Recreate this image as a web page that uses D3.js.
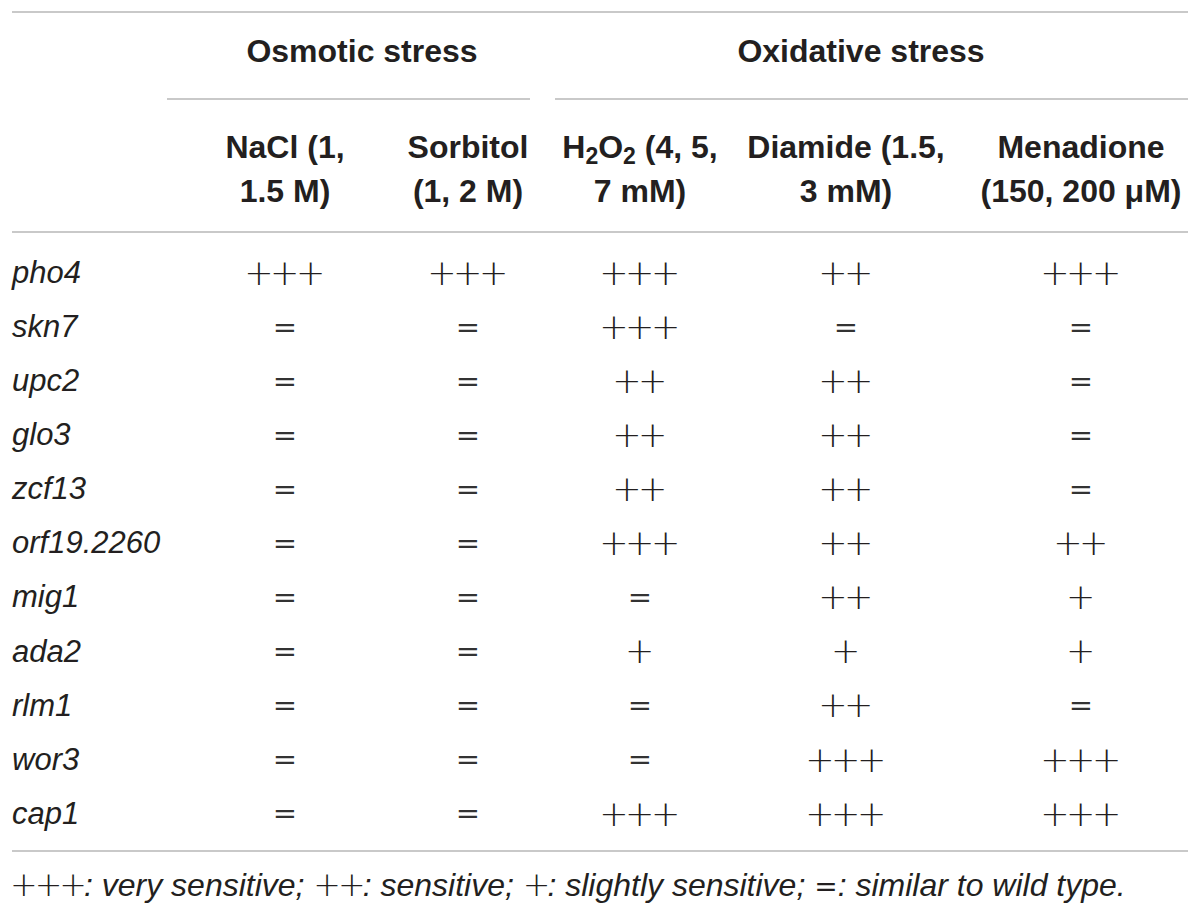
<!DOCTYPE html>
<html>
<head>
<meta charset="utf-8">
<style>
  body { margin: 0; background: #fff; }
  .rule { stroke: #c9c9c9; stroke-width: 2px; }
  .head { font-family: "Liberation Sans", Arial, sans-serif; font-weight: bold; font-size: 32px; fill: #231f20; }
  .gene { font-family: "Liberation Sans", Arial, sans-serif; font-style: italic; font-size: 31px; fill: #231f20; }
  .sym  { font-family: "DejaVu Sans", sans-serif; font-weight: 200; font-size: 35px; letter-spacing: -3.5px; fill: #231f20; }
  .sym.eq { font-weight: normal; font-size: 29px; letter-spacing: 0; fill: #333; }
  .note { font-family: "Liberation Sans", Arial, sans-serif; font-style: italic; font-size: 32px; fill: #231f20; }
</style>
<script src="https://d3js.org/d3.v7.min.js"></script>
</head>
<body>
<script>

    var width = 1200, height = 913;

    // table contents
    var genes = ["pho4", "skn7", "upc2", "glo3", "zcf13", "orf19.2260", "mig1", "ada2", "rlm1", "wor3", "cap1"];
    var nacl      = ["+++", "=", "=", "=", "=", "=", "=", "=", "=", "=", "="];
    var sorbitol  = ["+++", "=", "=", "=", "=", "=", "=", "=", "=", "=", "="];
    var h2o2      = ["+++", "+++", "++", "++", "++", "+++", "=", "+", "=", "=", "+++"];
    var diamide   = ["++", "=", "++", "++", "++", "++", "++", "+", "++", "+++", "+++"];
    var menadione = ["+++", "=", "=", "=", "=", "++", "+", "+", "=", "+++", "+++"];
    var columns = ["NaCl", "Sorbitol", "H2O2", "Diamide", "Menadione"];
    var groups = ["Osmotic stress", "Oxidative stress"];
    var footnote = "+++: very sensitive; ++: sensitive; +: slightly sensitive; =: similar to wild type.";

    var values = [nacl, sorbitol, h2o2, diamide, menadione];

    // layout
    var y = d3.scalePoint().domain(genes).range([272, 813]);
    var x = d3.scaleOrdinal().domain(columns).range([285, 468, 640, 846, 1081]);

    var svg = d3.select("body").append("svg")
        .attr("width", width)
        .attr("height", height);

    // horizontal rules
    var rules = [[12, 1188, 12], [167, 530, 99], [555, 1188, 99], [12, 1188, 232], [12, 1188, 851]];
    svg.selectAll("line.rule")
      .data(rules)
      .enter().append("line")
      .attr("class", "rule")
      .attr("x1", d => d[0]).attr("x2", d => d[1])
      .attr("y1", d => d[2]).attr("y2", d => d[2]);

    // group headers
    svg.selectAll("text.grp")
      .data(groups)
      .enter().append("text")
      .attr("class", "head grp")
      .attr("text-anchor", "middle")
      .attr("x", (d, i) => [362, 861][i])
      .attr("y", 62)
      .text(d => d);

    // column headers (two lines each)
    var hdr = svg.append("g");
    function headText(col, yy) {
      return hdr.append("text").attr("class", "head").attr("text-anchor", "middle")
        .attr("x", x(col)).attr("y", yy);
    }
    headText("NaCl", 158).text("NaCl (1,");
    headText("NaCl", 202).text("1.5 M)");
    headText("Sorbitol", 158).text("Sorbitol");
    headText("Sorbitol", 202).text("(1, 2 M)");
    var h = headText("H2O2", 158);
    h.append("tspan").text("H");
    h.append("tspan").attr("dy", 6).attr("font-size", 23).text("2");
    h.append("tspan").attr("dy", -6).text("O");
    h.append("tspan").attr("dy", 6).attr("font-size", 23).text("2");
    h.append("tspan").attr("dy", -6).text(" (4, 5,");
    headText("H2O2", 202).text("7 mM)");
    headText("Diamide", 158).text("Diamide (1.5,");
    headText("Diamide", 202).text("3 mM)");
    headText("Menadione", 158).text("Menadione");
    headText("Menadione", 202).text("(150, 200 \u03bcM)");

    // gene names
    svg.selectAll("text.gene")
      .data(genes)
      .enter().append("text")
      .attr("class", "gene")
      .attr("x", 12)
      .attr("y", d => y(d))
      .attr("dy", "0.35em")
      .text(d => d);

    // cells
    columns.forEach(function(col, ci) {
      svg.append("g").selectAll("text")
        .data(values[ci])
        .enter().append("text")
        .attr("class", d => d === "=" ? "sym eq" : "sym")
        .attr("text-anchor", "middle")
        .attr("x", d => d === "=" ? x(col) : x(col) - 2)
        .attr("y", (d, i) => y(genes[i]))
        .attr("dy", "0.36em")
        .text(d => d);
    });

    // footnote, symbols in the symbol font
    var note = svg.append("text").attr("class", "note").attr("x", 10).attr("y", 896);
    footnote.split(/([+=]+)/).filter(s => s.length).forEach(function(part) {
      var t = note.append("tspan").text(part);
      if (/^[+=]+$/.test(part)) t.attr("font-family", "DejaVu Sans").attr("font-style", "normal")
        .attr("font-weight", part === "=" ? 400 : 200).attr("font-size", part === "=" ? 28 : 33)
        .attr("letter-spacing", part === "=" ? 0 : -3);
    });

</script>
</body>
</html>
